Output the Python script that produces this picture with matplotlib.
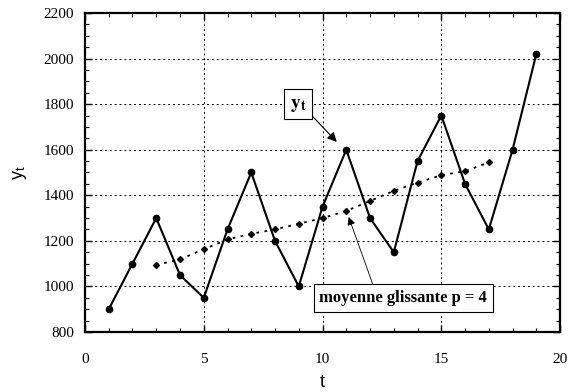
import matplotlib
matplotlib.use("Agg")
import matplotlib.pyplot as plt
from matplotlib.ticker import MultipleLocator

# serie observee y_t
t = list(range(1, 20))
y = [900, 1100, 1300, 1050, 950, 1250, 1500, 1200, 1000, 1350,
     1600, 1300, 1150, 1550, 1750, 1450, 1250, 1600, 2020]

# moyenne glissante centree p = 4
t_mm = list(range(3, 18))
y_mm = [1094, 1119, 1163, 1206, 1231, 1250, 1275, 1300, 1331, 1375,
        1419, 1456, 1488, 1506, 1544]

serif = "Liberation Serif"
sans = "Liberation Sans"
plt.rcParams["mathtext.fontset"] = "stix"

fig = plt.figure(figsize=(5.78, 3.92), dpi=100)
ax = fig.add_axes([0.147, 0.153, 0.822, 0.814])

ax.plot(t, y, color="black", lw=1.5, marker="o", ms=4.5, zorder=3)
ax.plot(t_mm, y_mm, color="black", lw=1.3, ls=(0, (1.5, 3)), marker="D",
        ms=3, zorder=3)

ax.set_xlim(0, 20)
ax.set_ylim(800, 2200)
ax.xaxis.set_major_locator(MultipleLocator(5))
ax.xaxis.set_minor_locator(MultipleLocator(1))
ax.yaxis.set_major_locator(MultipleLocator(200))
ax.yaxis.set_minor_locator(MultipleLocator(50))
ax.tick_params(which="both", direction="in", top=True, right=True,
               labelsize=11)
ax.tick_params(axis="x", which="major", pad=15)
ax.tick_params(axis="y", which="major", pad=8)
ax.tick_params(which="major", length=5, width=1)
ax.tick_params(which="minor", length=3, width=0.8)
for lab in ax.get_xticklabels() + ax.get_yticklabels():
    lab.set_fontfamily(serif)
for s in ax.spines.values():
    s.set_linewidth(1.6)
ax.grid(True, which="major", color="black", ls=(0, (2, 3)), lw=0.7)

ax.set_xlabel("t", fontsize=13, family=sans, labelpad=6)
ax.set_ylabel(r"y$_\mathregular{t}$", fontsize=13, family=sans, labelpad=10)

ax.annotate(r"$\mathbf{y_t}$", xy=(10.6, 1634), xytext=(8.97, 1800),
            fontsize=14, ha="center", va="center",
            bbox=dict(boxstyle="square,pad=0.3", fc="white", ec="black",
                      lw=0.8),
            arrowprops=dict(arrowstyle="-|>", color="black", lw=0.8,
                            shrinkA=0, shrinkB=0,
                            relpos=(1.0, 0.2)))
ax.annotate("moyenne glissante p = 4", xy=(11.1, 1305), xytext=(13.4, 950),
            fontsize=12, fontweight="bold", family=serif,
            ha="center", va="center",
            bbox=dict(boxstyle="square,pad=0.35", fc="white", ec="black",
                      lw=0.8),
            arrowprops=dict(arrowstyle="-|>", color="black", lw=0.6,
                            shrinkA=0, shrinkB=0, relpos=(0.33, 1.0)))

fig.savefig("out.png", dpi=100)
